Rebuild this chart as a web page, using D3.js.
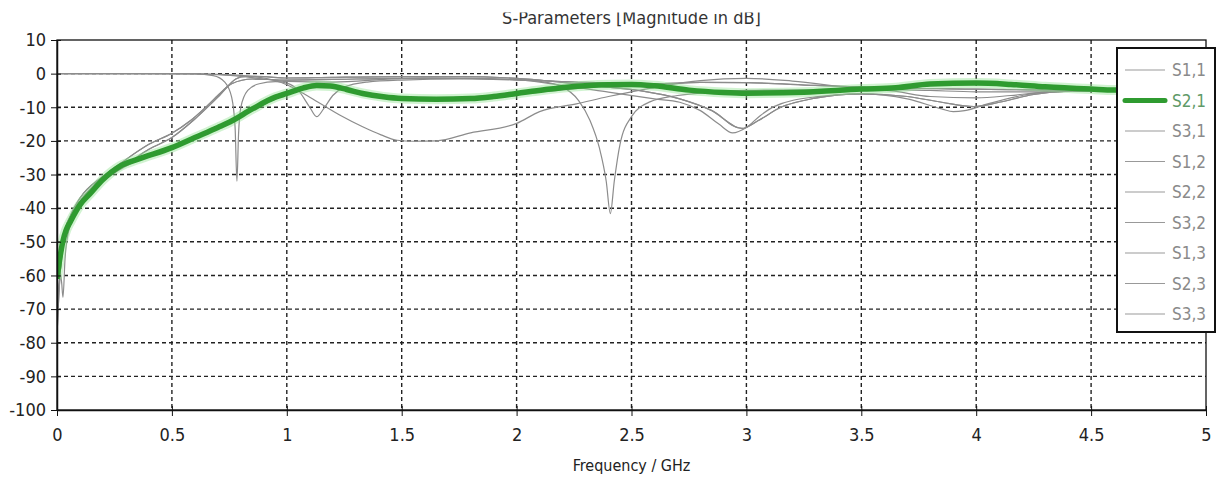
<!DOCTYPE html>
<html>
<head>
<meta charset="utf-8">
<script src="https://cdn.jsdelivr.net/npm/d3@7"></script>
<style>
  body { margin: 0; background: #fff; }
  svg { display: block; }
  text { font-family: "DejaVu Sans Condensed", "DejaVu Sans", sans-serif; }
</style>
</head>
<body>
<div id="mainContainer"><svg></svg></div>
<script>
const SVG_WIDTH = 1217;
const SVG_HEIGHT = 481;

// tick values
const xTicks = [0, 0.5, 1, 1.5, 2, 2.5, 3, 3.5, 4, 4.5, 5];
const yTicks = [10, 0, -10, -20, -30, -40, -50, -60, -70, -80, -90, -100];

// legend order
const seriesNames = ["S1,1", "S2,1", "S3,1", "S1,2", "S2,2", "S3,2", "S1,3", "S2,3", "S3,3"];

// [GHz, dB]
const s11 = [[0,0],[0.3,0],[0.6,-0.1],[0.68,-0.6],[0.73,-2.5],[0.76,-7],[0.775,-16],[0.783,-32],[0.79,-18],[0.8,-10],
  [0.83,-5],[0.88,-3],[0.95,-2.4],[1.0,-2.8],[1.05,-5],[1.1,-10],[1.13,-12.8],[1.16,-10.5],[1.2,-6.5],[1.25,-4],
  [1.35,-2.5],[1.5,-1.9],[1.75,-1.6],[2.0,-1.9],[2.1,-2.3],[2.2,-4],[2.27,-8],[2.32,-14],[2.36,-22],[2.39,-32],
  [2.408,-41.6],[2.425,-32],[2.45,-21],[2.5,-12.8],[2.58,-8.4],[2.7,-6.5],[2.85,-5.5],[3.0,-5],[3.3,-4.8],[3.6,-5],
  [3.8,-6.8],[4.0,-7.2],[4.15,-6.5],[4.3,-5.5],[4.6,-5],[5,-5]];

const s21 = [[0,-61],[0.01,-56],[0.025,-50],[0.04,-46.5],[0.058,-44],[0.1,-39],[0.145,-35.6],[0.2,-31.5],[0.275,-27.5],
  [0.35,-25.5],[0.5,-22],[0.6,-19],[0.7,-16],[0.754,-14.3],[0.85,-10.5],[0.95,-7],[1.0,-5.9],[1.07,-4.3],[1.13,-3.5],
  [1.19,-3.7],[1.26,-4.7],[1.33,-5.9],[1.42,-6.9],[1.5,-7.4],[1.65,-7.6],[1.8,-7.4],[1.9,-6.8],[2.0,-5.9],[2.12,-4.8],
  [2.25,-3.8],[2.4,-3.3],[2.5,-3.2],[2.6,-3.6],[2.75,-4.9],[2.9,-5.6],[3.0,-5.8],[3.25,-5.5],[3.5,-4.6],[3.65,-4.2],
  [3.8,-3.1],[4.0,-2.8],[4.15,-3.2],[4.3,-3.9],[4.5,-4.6],[4.6,-4.9],[4.8,-5],[5,-5]];

const s31 = [[0,-78],[0.005,-70],[0.015,-58],[0.03,-48],[0.06,-42],[0.1,-37],[0.2,-30.5],[0.28,-26.5],[0.4,-21],
  [0.5,-17.7],[0.58,-14],[0.65,-9.8],[0.7,-6.5],[0.74,-3.9],[0.78,-1.5],[0.82,-0.8],[0.9,-0.9],[1.0,-1.3],[1.2,-1.1],
  [1.5,-0.9],[1.75,-0.9],[2.0,-1.4],[2.2,-2.6],[2.4,-4],[2.55,-5.2],[2.71,-7.5],[2.85,-11],[2.98,-16.3],[3.05,-14],
  [3.15,-10],[3.3,-7.3],[3.5,-6],[3.7,-6.8],[3.85,-8.5],[3.99,-9.8],[4.1,-8.5],[4.25,-6.2],[4.4,-5.2],[4.6,-5],[5,-5]];

const s12 = [[0,-62],[0.01,-58],[0.02,-62],[0.026,-66.5],[0.035,-55],[0.05,-47],[0.1,-39.5],[0.2,-32],[0.3,-27.5],
  [0.5,-22.5],[0.75,-14.5],[1.0,-6.2],[1.13,-3.8],[1.5,-7.6],[2.0,-6.1],[2.5,-3.4],[3.0,-6],[3.5,-4.8],[4.0,-3],
  [4.5,-4.8],[5,-5.1]];

const s22 = [[0,0],[0.4,0],[0.6,-0.1],[0.7,-0.2],[0.8,-0.5],[0.9,-1.3],[0.94,-1.9],[1.0,-3.3],[1.1,-7],[1.23,-12.3],
  [1.33,-15.8],[1.41,-18.2],[1.48,-19.8],[1.55,-20.1],[1.65,-20],[1.8,-17.6],[2.0,-14.8],[2.1,-11.3],[2.26,-9],
  [2.4,-6.8],[2.5,-5.4],[2.65,-3.5],[2.8,-2.1],[3.0,-1.4],[3.2,-2.2],[3.5,-4.4],[3.8,-5],[4.0,-5.4],[4.3,-5.4],
  [4.6,-5],[5,-4.9]];

const s32 = [[0,-70],[0.02,-55],[0.05,-44],[0.1,-38],[0.2,-31],[0.3,-27],[0.4,-22.5],[0.5,-19],[0.6,-13.5],[0.7,-7],
  [0.76,-3],[0.85,-1.6],[1.0,-1.9],[1.3,-1.6],[1.6,-1.3],[2.0,-1.8],[2.3,-2.6],[2.6,-3],[2.8,-2.6],[3.0,-2.7],
  [3.3,-3.5],[3.6,-4.2],[4.0,-4.6],[4.5,-5],[5,-5]];

const s33 = [[0,0],[0.4,0],[0.6,0],[0.7,-0.3],[0.8,-0.8],[0.9,-1.6],[1.0,-2.3],[1.2,-2.5],[1.5,-1.5],[1.8,-1.4],
  [2.0,-1.8],[2.2,-3.5],[2.4,-5.5],[2.6,-7.5],[2.71,-8.5],[2.8,-11],[2.88,-15],[2.94,-17.6],[3.0,-16],[3.06,-12.5],
  [3.12,-9.8],[3.3,-6.9],[3.5,-6],[3.7,-7.5],[3.85,-10.5],[3.9,-11.3],[3.95,-11],[4.05,-9],[4.2,-6.5],[4.31,-5.4],
  [4.6,-5],[5,-5]];

// reciprocal pairs lie on top of each other
const s13 = s31;
const s23 = s32;

const seriesData = { "S1,1": s11, "S2,1": s21, "S3,1": s31, "S1,2": s12, "S2,2": s22,
  "S3,2": s32, "S1,3": s13, "S2,3": s23, "S3,3": s33 };

const GREY = "#8c8c8c";
const GREEN = "#2f9b30";

const margin = { left: 57, right: 11, top: 40, bottom: 71 };

let svg = d3.select("svg")
  .attr("width", SVG_WIDTH)
  .attr("height", SVG_HEIGHT);

let x = d3.scaleLinear().domain([0, 5]).range([margin.left, SVG_WIDTH - margin.right]);
let y = d3.scaleLinear().domain([-100, 10]).range([SVG_HEIGHT - margin.bottom, margin.top]);

const x0 = x.range()[0], x1 = x.range()[1];
const y0 = y.range()[0], y1 = y.range()[1];

// title, top of it cut off like the original
svg.append("clipPath").attr("id", "titleClip")
  .append("rect").attr("x", 0).attr("y", 12.5).attr("width", SVG_WIDTH).attr("height", 30);
svg.append("text")
  .attr("clip-path", "url(#titleClip)")
  .attr("x", (x0 + x1) / 2)
  .attr("y", 24)
  .attr("text-anchor", "middle")
  .attr("font-size", 18)
  .attr("fill", "#333")
  .text("S-Parameters [Magnitude in dB]");

// dashed grid
svg.append("g")
  .selectAll("line.vgrid")
  .data(xTicks.slice(1, -1))
  .enter().append("line")
  .attr("x1", d => x(d)).attr("x2", d => x(d))
  .attr("y1", y1).attr("y2", y0)
  .attr("stroke", "#222").attr("stroke-width", 1.4).attr("stroke-dasharray", "4,3");

svg.append("g")
  .selectAll("line.hgrid")
  .data(yTicks.slice(1, -1))
  .enter().append("line")
  .attr("x1", x0).attr("x2", x1)
  .attr("y1", d => y(d)).attr("y2", d => y(d))
  .attr("stroke", "#222").attr("stroke-width", 1.4).attr("stroke-dasharray", "4,3");

// frame
svg.append("rect")
  .attr("x", x0).attr("y", y1)
  .attr("width", x1 - x0).attr("height", y0 - y1)
  .attr("fill", "none").attr("stroke", "#111").attr("stroke-width", 1.3);

// curves
svg.append("clipPath").attr("id", "plotClip")
  .append("rect").attr("x", x0).attr("y", y1).attr("width", x1 - x0).attr("height", y0 - y1);

let line = d3.line()
  .x(d => x(d[0]))
  .y(d => y(d[1]))
  .curve(d3.curveMonotoneX);

let curves = svg.append("g").attr("clip-path", "url(#plotClip)");

seriesNames.filter(n => n !== "S2,1").forEach(name => {
  curves.append("path")
    .attr("d", line(seriesData[name]))
    .attr("fill", "none")
    .attr("stroke", GREY)
    .attr("stroke-width", 1.2);
});

curves.append("path")
  .attr("d", line(s21))
  .attr("fill", "none")
  .attr("stroke", "#8be28b")
  .attr("stroke-opacity", 0.4)
  .attr("stroke-width", 10)
  .attr("stroke-linejoin", "round");
curves.append("path")
  .attr("d", line(s21))
  .attr("fill", "none")
  .attr("stroke", GREEN)
  .attr("stroke-width", 5.5)
  .attr("stroke-linejoin", "round");

// axes (plain hyphen for negatives, like the original)
let xAxis = svg.append("g")
  .attr("transform", `translate(0,${y0})`)
  .call(d3.axisBottom(x).tickValues(xTicks).tickFormat(d => String(d)).tickSizeInner(6).tickSizeOuter(0).tickPadding(12));
xAxis.select(".domain").attr("stroke", "#111").attr("stroke-width", 1.5);
xAxis.selectAll(".tick line").attr("stroke", "#111").attr("y1", -4);
xAxis.selectAll(".tick text").attr("font-size", 18).attr("fill", "#222")
  .attr("font-family", '"DejaVu Sans Condensed", sans-serif');

let yAxis = svg.append("g")
  .attr("transform", `translate(${x0},0)`)
  .call(d3.axisLeft(y).tickValues(yTicks).tickFormat(d => String(d)).tickSizeInner(6).tickSizeOuter(0).tickPadding(5));
yAxis.select(".domain").attr("stroke", "#111").attr("stroke-width", 1.5);
yAxis.selectAll(".tick line").attr("stroke", "#111").attr("x1", 4);
yAxis.selectAll(".tick text").attr("font-size", 18).attr("fill", "#222")
  .attr("font-family", '"DejaVu Sans Condensed", sans-serif');

svg.append("text")
  .attr("x", (x0 + x1) / 2)
  .attr("y", 471)
  .attr("text-anchor", "middle")
  .attr("font-size", 16)
  .attr("fill", "#222")
  .text("Frequency / GHz");

// legend
const LEG_X = 1117, LEG_Y = 48, LEG_W = 98, LEG_H = 284, LEG_STEP = 30.5;
let legend = svg.append("g");
legend.append("rect")
  .attr("x", LEG_X).attr("y", LEG_Y)
  .attr("width", LEG_W).attr("height", LEG_H)
  .attr("fill", "#fff").attr("stroke", "#111").attr("stroke-width", 2);

legend.selectAll("g.item")
  .data(seriesNames)
  .enter().append("g")
  .attr("transform", (d, i) => `translate(${LEG_X}, ${LEG_Y + 22 + i * LEG_STEP})`)
  .each(function (name) {
    let node = d3.select(this);
    let isMain = name === "S2,1";
    node.append("line")
      .attr("x1", 8).attr("x2", 48)
      .attr("y1", 0).attr("y2", 0)
      .attr("stroke", isMain ? GREEN : "#999")
      .attr("stroke-width", isMain ? 5 : 1.2)
      .attr("stroke-linecap", isMain ? "round" : "butt");
    node.append("text")
      .attr("x", 55).attr("y", 6)
      .attr("font-size", 17)
      .attr("fill", isMain ? "#5f9a68" : "#8a8a8a")
      .text(name);
  });
</script>
</body>
</html>
